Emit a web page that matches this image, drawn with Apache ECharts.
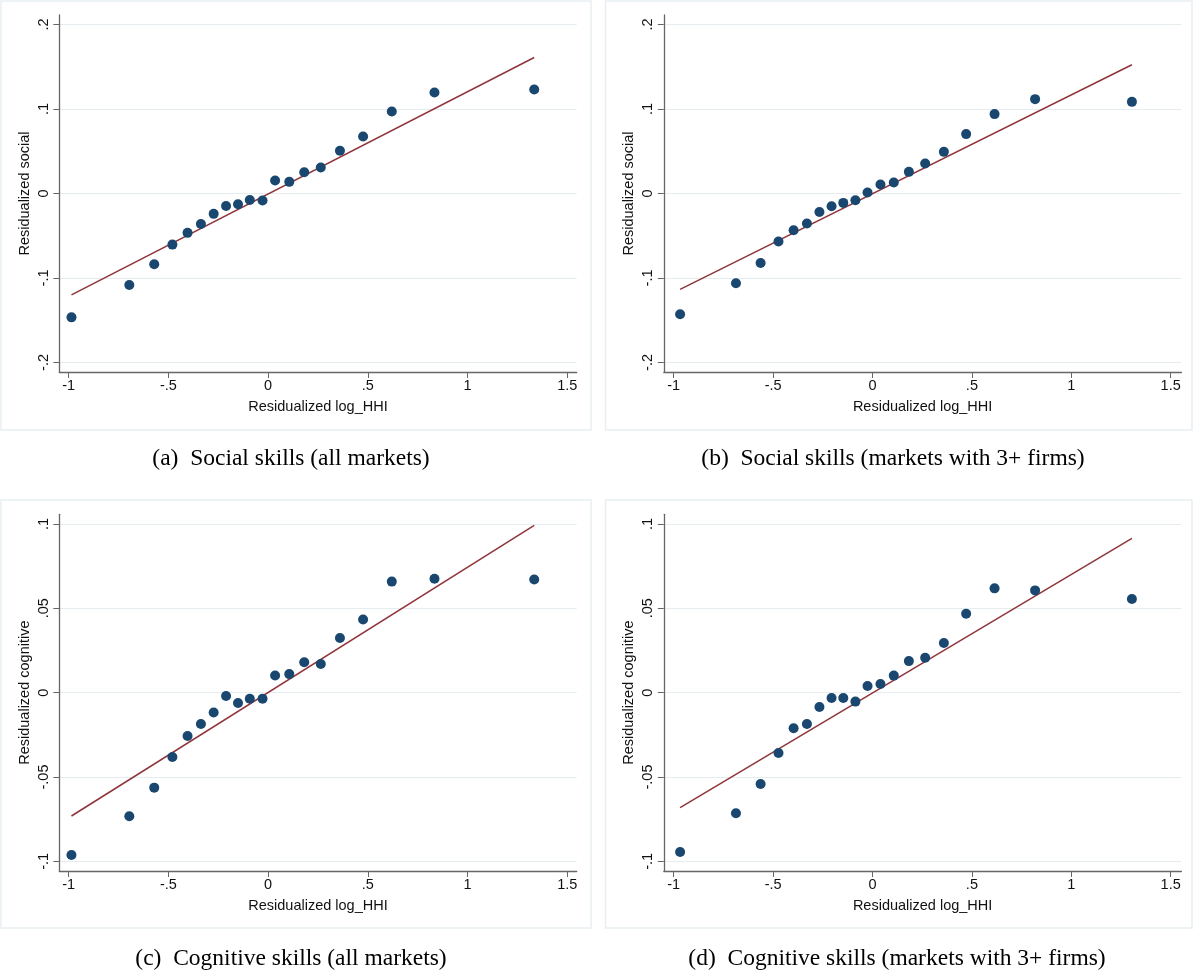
<!DOCTYPE html>
<html>
<head>
<meta charset="utf-8">
<script src="https://cdn.jsdelivr.net/npm/echarts@6/dist/echarts.min.js"></script>
<style>
html,body{margin:0;padding:0;background:#fff;}
#chart{width:1195px;height:976px;}
</style>
</head>
<body>
<div id="chart"></div>
<script>
// ---- data ----
const xTicks = [-1, -0.5, 0, 0.5, 1, 1.5];
const xTickLabels = ['-1', '-.5', '0', '.5', '1', '1.5'];
const ySocialTicks = [-0.2, -0.1, 0, 0.1, 0.2];
const ySocialTickLabels = ['-.2', '-.1', '0', '.1', '.2'];
const yCogTicks = [-0.1, -0.05, 0, 0.05, 0.1];
const yCogTickLabels = ['-.1', '-.05', '0', '.05', '.1'];

const xAll = [-0.986, -0.696, -0.571, -0.480, -0.404, -0.337, -0.273, -0.211, -0.151, -0.092, -0.028, 0.035, 0.106, 0.181, 0.264, 0.360, 0.476, 0.620, 0.834, 1.334];
const socialAll = [-0.1466, -0.1083, -0.0838, -0.0605, -0.0466, -0.0360, -0.0241, -0.0147, -0.0127, -0.0076, -0.0083, 0.0154, 0.0138, 0.0252, 0.0308, 0.0505, 0.0675, 0.0971, 0.1196, 0.1232];
const cognitiveAll = [-0.0962, -0.0733, -0.0563, -0.0381, -0.0257, -0.0186, -0.0118, -0.0020, -0.0061, -0.0036, -0.0036, 0.0102, 0.0110, 0.0180, 0.0170, 0.0324, 0.0434, 0.0658, 0.0675, 0.0671];

const x3 = [-0.968, -0.687, -0.563, -0.473, -0.397, -0.330, -0.267, -0.206, -0.147, -0.086, -0.025, 0.040, 0.107, 0.183, 0.265, 0.359, 0.471, 0.614, 0.818, 1.305];
const social3 = [-0.1430, -0.1063, -0.0822, -0.0569, -0.0435, -0.0356, -0.0218, -0.0150, -0.0111, -0.0079, 0.0012, 0.0107, 0.0130, 0.0256, 0.0355, 0.0493, 0.0703, 0.0940, 0.1117, 0.1085];
const cognitive3 = [-0.0944, -0.0715, -0.0541, -0.0358, -0.0211, -0.0186, -0.0085, -0.0032, -0.0032, -0.0053, 0.0039, 0.0051, 0.0101, 0.0187, 0.0207, 0.0294, 0.0468, 0.0618, 0.0606, 0.0555];

// fitted line endpoints [x, y]
const fitSocialAll = [[-0.986, -0.1200], [1.334, 0.1610]];
const fitSocial3 = [[-0.968, -0.1134], [1.305, 0.1524]];
const fitCogAll = [[-0.986, -0.0731], [1.334, 0.0991]];
const fitCog3 = [[-0.968, -0.0681], [1.305, 0.0914]];

const captions = [
  '(a)  Social skills (all markets)',
  '(b)  Social skills (markets with 3+ firms)',
  '(c)  Cognitive skills (all markets)',
  '(d)  Cognitive skills (markets with 3+ firms)'
];
const xName = 'Residualized log_HHI';
const yNames = ['Residualized social', 'Residualized social', 'Residualized cognitive', 'Residualized cognitive'];

// ---- layout / style ----
const AXIS_COLOR = '#666';
const GRID_COLOR = '#e5edf0';
const FRAME_COLOR = '#e8eef2';
const DOT = '#1a476f';
const FIT = '#90353b';
const SANS = '"Liberation Sans", Arial, sans-serif';
const SERIF = '"Liberation Serif", "Times New Roman", serif';

const panels = [
  {grid: {left: 59.3, top: 15, width: 517.4, height: 357}, xr: [-1.047, 1.547], yr: [-0.2113, 0.2113], yt: ySocialTicks, yl: ySocialTickLabels, xs: xAll, ys: socialAll, fit: fitSocialAll},
  {grid: {left: 663.8, top: 15, width: 517.6, height: 357}, xr: [-1.050, 1.554], yr: [-0.2113, 0.2113], yt: ySocialTicks, yl: ySocialTickLabels, xs: x3, ys: social3, fit: fitSocial3},
  {grid: {left: 59.3, top: 514.3, width: 517.4, height: 356.7}, xr: [-1.047, 1.547], yr: [-0.1057, 0.1057], yt: yCogTicks, yl: yCogTickLabels, xs: xAll, ys: cognitiveAll, fit: fitCogAll},
  {grid: {left: 663.8, top: 514.3, width: 517.6, height: 356.7}, xr: [-1.050, 1.554], yr: [-0.1057, 0.1057], yt: yCogTicks, yl: yCogTickLabels, xs: x3, ys: cognitive3, fit: fitCog3}
];

function labelFor(ticks, labels) {
  return function (v) {
    for (let i = 0; i < ticks.length; i++) {
      if (Math.abs(ticks[i] - v) < 1e-9) return labels[i];
    }
    return '';
  };
}

const grids = [], xAxes = [], yAxes = [], series = [];
panels.forEach((p, i) => {
  grids.push(Object.assign({outerBoundsMode: 'none', containLabel: false}, p.grid));
  xAxes.push({
    type: 'value', gridIndex: i, min: p.xr[0], max: p.xr[1],
    name: xName, nameLocation: 'middle', nameGap: 27,
    nameTextStyle: {fontFamily: SANS, fontSize: 14.5, color: '#111'},
    axisLine: {show: true, onZero: false, lineStyle: {color: AXIS_COLOR, width: 1.3}},
    axisTick: {show: true, length: 6, inside: false, customValues: xTicks, lineStyle: {color: AXIS_COLOR, width: 1}},
    axisLabel: {show: true, margin: 6, customValues: xTicks, formatter: labelFor(xTicks, xTickLabels), fontFamily: SANS, fontSize: 14.5, color: '#111'},
    splitLine: {show: false}
  });
  yAxes.push({
    type: 'value', gridIndex: i, min: p.yr[0], max: p.yr[1],
    name: yNames[i], nameLocation: 'middle', nameGap: 27, nameRotate: 90,
    nameTextStyle: {fontFamily: SANS, fontSize: 14.5, color: '#111'},
    axisLine: {show: true, onZero: false, lineStyle: {color: AXIS_COLOR, width: 1.3}},
    axisTick: {show: true, length: 6, inside: false, customValues: p.yt, lineStyle: {color: AXIS_COLOR, width: 1}},
    axisLabel: {show: true, margin: 8, rotate: 90, customValues: p.yt, formatter: labelFor(p.yt, p.yl), fontFamily: SANS, fontSize: 14.5, color: '#111'},
    splitLine: {show: true, lineStyle: {color: GRID_COLOR, width: 1.2}}
  });
  series.push({
    type: 'line', xAxisIndex: i, yAxisIndex: i, data: p.fit,
    showSymbol: false, symbol: 'none', silent: true,
    lineStyle: {color: FIT, width: 1.5}, z: 2, animation: false
  });
  series.push({
    type: 'scatter', xAxisIndex: i, yAxisIndex: i,
    data: p.xs.map((x, k) => [x, p.ys[k]]),
    symbol: 'circle', symbolSize: 10,
    itemStyle: {color: DOT, opacity: 1}, z: 3, animation: false
  });
});

const frames = [
  {x: 1, y: 1, w: 590, h: 429},
  {x: 605.5, y: 1, w: 586.5, h: 429},
  {x: 1, y: 500, w: 590, h: 428},
  {x: 605.5, y: 500, w: 586.5, h: 428}
];
const capPos = [[291, 459], [893, 459], [291, 959], [897, 959]];

const graphic = [];
frames.forEach(f => graphic.push({
  type: 'rect', shape: {x: f.x, y: f.y, width: f.w, height: f.h}, silent: true, z: -10,
  style: {fill: 'none', stroke: FRAME_COLOR, lineWidth: 1.5}
}));
captions.forEach((c, i) => graphic.push({
  type: 'text', x: capPos[i][0], y: capPos[i][1], silent: true,
  style: {text: c, fill: '#000', font: '23.5px ' + SERIF, textAlign: 'center', textVerticalAlign: 'middle'}
}));

const chart = echarts.init(document.getElementById('chart'), null, {renderer: 'canvas'});
chart.setOption({
  animation: false,
  backgroundColor: '#fff',
  grid: grids, xAxis: xAxes, yAxis: yAxes, series: series,
  graphic: graphic
});
</script>
</body>
</html>
